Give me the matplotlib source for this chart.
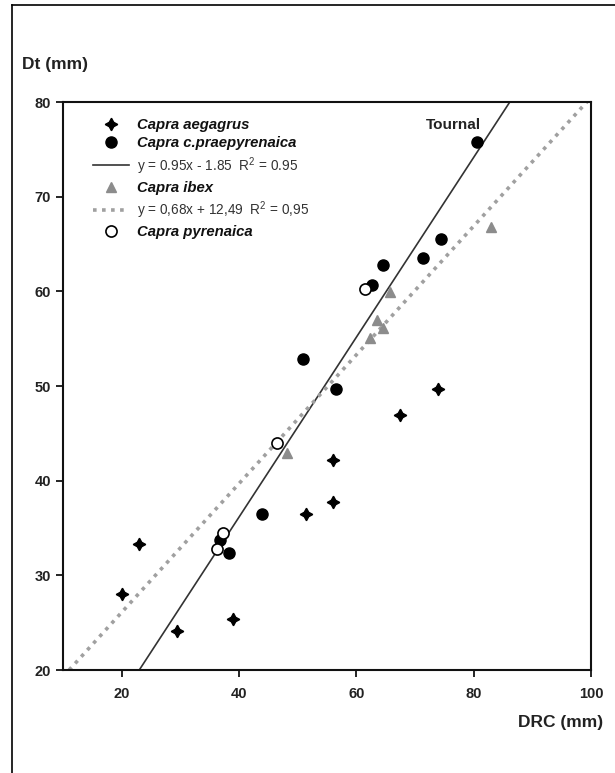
import numpy as np
import matplotlib
matplotlib.use("Agg")
import matplotlib.pyplot as plt
from matplotlib.lines import Line2D

plt.rcParams['font.family'] = ['Liberation Sans', 'DejaVu Sans']
plt.rcParams['mathtext.fontset'] = 'custom'
plt.rcParams['mathtext.rm'] = 'Liberation Sans'
plt.rcParams['mathtext.default'] = 'regular'

# Capra aegagrus
aeg_x = [20, 23, 29.5, 39, 51.5, 56, 56, 67.5, 74]
aeg_y = [28, 33.3, 24.1, 25.4, 36.5, 37.7, 42.2, 46.9, 49.7]
# Capra c.praepyrenaica
prae_x = [36.7, 38.3, 43.9, 50.9, 56.6, 62.6, 64.5, 71.3, 74.5, 80.5]
prae_y = [33.7, 32.4, 36.5, 52.8, 49.7, 60.7, 62.8, 63.5, 65.5, 75.8]
# Capra ibex
ibex_x = [48.1, 62.4, 63.6, 64.6, 65.8, 82.9]
ibex_y = [42.9, 55.1, 57.0, 56.1, 59.9, 66.8]
# Capra pyrenaica
pyr_x = [36.2, 37.2, 46.4, 61.4]
pyr_y = [32.8, 34.5, 44.0, 60.2]

# regressions (from legend)
prae_fit = (0.95, -1.85)
ibex_fit = (0.68, 12.49)

xlim = (10, 100)
ylim = (20, 80)

fig = plt.figure(figsize=(6.15, 7.73), dpi=100)
ax = fig.add_axes([63 / 615, 1 - 670 / 773, (591 - 63) / 615, (670 - 102) / 773])

xs = np.array(xlim, dtype=float)

ax.plot(aeg_x, aeg_y, linestyle='none', marker=(4, 1, 0), markersize=9,
        color='black', label='Capra aegagrus', zorder=3)
ax.plot(prae_x, prae_y, linestyle='none', marker='o', markersize=8,
        color='black', label='Capra c.praepyrenaica', zorder=3)
ax.plot(xs, prae_fit[0] * xs + prae_fit[1], color='#333333', lw=1.2,
        label='y = 0.95x - 1.85  R$^2$ = 0.95', zorder=2)
ax.plot(ibex_x, ibex_y, linestyle='none', marker='^', markersize=7.5,
        color='#8c8c8c', label='Capra ibex', zorder=3)
ax.plot(xs, ibex_fit[0] * xs + ibex_fit[1], color='#a0a0a0', lw=2.6,
        linestyle=(0, (1, 1.5)), label='y = 0,68x + 12,49  R$^2$ = 0,95', zorder=2)
ax.plot(pyr_x, pyr_y, linestyle='none', marker='o', markersize=8,
        markerfacecolor='white', markeredgecolor='black', markeredgewidth=1.2,
        label='Capra pyrenaica', zorder=4)

ax.annotate('Tournal', xy=(prae_x[-1], prae_y[-1]), xytext=(3.5, 7),
            textcoords='offset points', ha='right', va='bottom',
            fontsize=11, fontweight='bold', color='#222222')

ax.set_xlim(*xlim)
ax.set_ylim(*ylim)
ax.set_xticks([20, 40, 60, 80, 100])
ax.set_yticks([20, 30, 40, 50, 60, 70, 80])
ax.tick_params(direction='out', length=5, width=1.2, color='black')
ax.tick_params(axis='x', pad=7)
ax.tick_params(axis='y', pad=3.5)
for lab in ax.get_xticklabels() + ax.get_yticklabels():
    lab.set_fontsize(10.5)
    lab.set_fontweight('bold')
    lab.set_color('#222222')
for sp in ax.spines.values():
    sp.set_linewidth(1.5)
    sp.set_color('#111111')

fig.text(22 / 615, 1 - 65 / 773, 'Dt (mm)', ha='left', va='center',
         fontsize=12.5, fontweight='bold', color='#222222')
fig.text(603 / 615, 1 - 722 / 773, 'DRC (mm)', ha='right', va='center',
         fontsize=12.5, fontweight='bold', color='#222222')

leg = ax.legend(loc='upper left', bbox_to_anchor=((93 - 63) / 528, (670 - 118) / 568),
                frameon=False, borderpad=0, borderaxespad=0, handlelength=2.4,
                handletextpad=0.55, labelspacing=0.3,
                prop={'size': 10.7, 'weight': 'bold', 'style': 'italic'})
for i, t in enumerate(leg.get_texts()):
    if i in (2, 4):
        t.set_fontweight('normal')
        t.set_fontstyle('normal')
        t.set_fontsize(9.8)
        t.set_color('#333333')
    else:
        t.set_color('#111111')

# outer frame of the figure
fig.add_artist(Line2D([12 / 615, 12 / 615], [0, 1 - 5 / 773], color='black', lw=1.2))
fig.add_artist(Line2D([12 / 615, 1], [1 - 5 / 773, 1 - 5 / 773], color='black', lw=1.2))

fig.savefig('out.png', dpi=100)
